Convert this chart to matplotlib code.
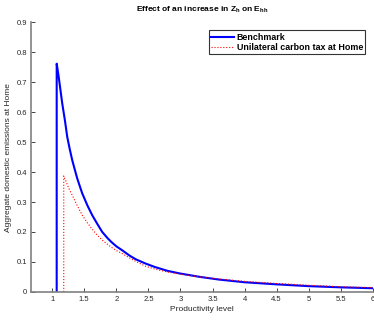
import matplotlib
matplotlib.use("Agg")
import matplotlib.pyplot as plt

plt.rcParams['font.family'] = ['Liberation Sans', 'DejaVu Sans']

# Benchmark curve
bench_x = [1.07, 1.07, 1.1, 1.156, 1.2, 1.234, 1.27, 1.312, 1.35, 1.39, 1.43, 1.468, 1.55,
           1.624, 1.7, 1.78, 1.86, 1.92, 2.0, 2.09, 2.2, 2.3, 2.45, 2.6, 2.8, 3.0, 3.3, 3.6,
           4.0, 4.5, 5.0, 5.5, 6.0]
bench_y = [0.0, 0.762, 0.72, 0.63, 0.57, 0.518, 0.48, 0.44, 0.41, 0.379, 0.353, 0.329, 0.288,
           0.256, 0.228, 0.20, 0.18, 0.167, 0.152, 0.139, 0.122, 0.109, 0.095, 0.083, 0.07,
           0.061, 0.05, 0.041, 0.032, 0.025, 0.019, 0.015, 0.012]

# Unilateral carbon tax at Home
tax_x = [1.18, 1.18, 1.22, 1.26, 1.312, 1.39, 1.468, 1.55, 1.624, 1.7, 1.78, 1.86, 1.936,
         2.0, 2.09, 2.2, 2.3, 2.45, 2.6, 2.8, 3.0, 3.3, 3.6, 4.0, 4.5, 5.0, 5.5, 6.0]
tax_y = [0.0, 0.387, 0.366, 0.345, 0.323, 0.288, 0.256, 0.23, 0.209, 0.19, 0.173, 0.159,
         0.147, 0.138, 0.128, 0.114, 0.102, 0.086, 0.076, 0.066, 0.059, 0.05, 0.043, 0.035,
         0.028, 0.022, 0.017, 0.014]

x_ticks = [1, 1.5, 2, 2.5, 3, 3.5, 4, 4.5, 5, 5.5, 6]
x_labels = ["1", "1.5", "2", "2.5", "3", "3.5", "4", "4.5", "5", "5.5", "6"]
y_ticks = [0, 0.1, 0.2, 0.3, 0.4, 0.5, 0.6, 0.7, 0.8, 0.9]
y_labels = ["0", "0.1", "0.2", "0.3", "0.4", "0.5", "0.6", "0.7", "0.8", "0.9"]

fig = plt.figure(figsize=(3.74, 3.2), dpi=100)
ax = fig.add_axes([0.083, 0.088, 0.914, 0.842])

ax.plot(bench_x, bench_y, color="#0000ff", linewidth=1.5, label="Benchmark")
ax.plot(tax_x, tax_y, color="#ff0000", linewidth=0.8, linestyle=":", label="Unilateral carbon tax at Home")

ax.set_xlim(0.67, 6)
ax.set_ylim(0, 0.9)
ax.set_xticks(x_ticks)
ax.set_xticklabels(x_labels)
ax.set_yticks(y_ticks)
ax.set_yticklabels(y_labels)

gray = "#262626"
for side in ["top", "right"]:
    ax.spines[side].set_visible(False)
for side in ["left", "bottom"]:
    ax.spines[side].set_color("#808080")
    ax.spines[side].set_linewidth(1.2)
ax.tick_params(direction="in", length=3, width=0.6, labelsize=5.5, colors=gray, pad=3)

ax.set_xlabel("Productivity level", fontsize=6, color=gray, labelpad=2)
ax.set_ylabel("Aggregate domestic emissions at Home", fontsize=6, color=gray, labelpad=3)
ax.set_title(r"Effect of an increase in Z$_\mathregular{h}$ on E$_\mathregular{hh}$",
             fontsize=6, fontweight="bold", pad=8)

leg = ax.legend(loc="upper right", bbox_to_anchor=(0.978, 0.97),
                prop={"weight": "bold", "size": 6.4}, frameon=True, fancybox=False,
                handlelength=2.6, handletextpad=0.3, borderpad=0.25, labelspacing=0.15,
                borderaxespad=0)
leg.get_frame().set_edgecolor("#000000")
leg.get_frame().set_linewidth(0.8)

fig.savefig("out.png", dpi=100)
